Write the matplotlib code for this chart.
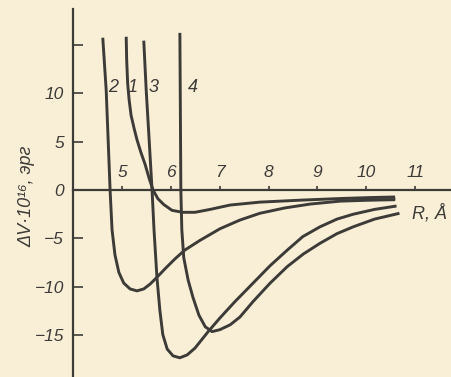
import matplotlib
matplotlib.use("Agg")
import matplotlib.pyplot as plt
from matplotlib import font_manager

# ---- data ----
r1 = [5.08, 5.09, 5.11, 5.14, 5.18, 5.24, 5.30, 5.38, 5.47, 5.55, 5.63, 5.73, 5.85, 6.02, 6.24,
      6.49, 6.80, 7.21, 7.82, 8.64, 9.46, 10.08, 10.59]
v1 = [15.8, 13.4, 11.0, 9.3, 7.7, 6.4, 5.2, 3.9, 2.6, 1.2, 0.0, -0.9, -1.5, -2.1, -2.3,
      -2.3, -2.0, -1.55, -1.25, -1.05, -0.88, -0.78, -0.72]

r2 = [4.60, 4.67, 4.71, 4.75, 4.79, 4.85, 4.93, 5.03, 5.16, 5.30, 5.44, 5.57, 5.71, 5.88, 6.08,
      6.28, 6.59, 7.00, 7.41, 7.82, 8.33, 8.85, 9.46, 10.08, 10.59]
v2 = [15.7, 10.3, 5.2, 0.0, -4.1, -6.7, -8.5, -9.6, -10.2, -10.4, -10.2, -9.7, -9.0, -8.1, -7.1,
      -6.2, -5.2, -4.0, -3.1, -2.4, -1.85, -1.45, -1.15, -1.05, -1.0]

r3 = [5.44, 5.49, 5.55, 5.61, 5.65, 5.71, 5.77, 5.83, 5.92, 6.04, 6.18, 6.33, 6.49, 6.76, 7.00,
      7.31, 7.68, 8.03, 8.38, 8.70, 9.05, 9.40, 9.73, 10.17, 10.62]
v3 = [15.4, 10.3, 5.2, 0.0, -4.1, -9.0, -12.4, -14.9, -16.4, -17.1, -17.3, -17.0, -16.3, -14.6, -13.2,
      -11.5, -9.6, -7.8, -6.2, -4.8, -3.8, -3.0, -2.5, -2.0, -1.65]

r4 = [6.18, 6.19, 6.20, 6.22, 6.26, 6.35, 6.45, 6.57, 6.70, 6.84, 7.00, 7.21, 7.41, 7.68, 8.03,
      8.38, 8.71, 9.05, 9.40, 9.73, 10.17, 10.68]
v4 = [16.2, 8.2, 0.0, -4.1, -7.0, -9.3, -11.1, -12.9, -14.1, -14.6, -14.4, -13.9, -13.1, -11.5, -9.6,
      -7.9, -6.6, -5.5, -4.5, -3.8, -3.0, -2.4]

curves = [(r1, v1), (r2, v2), (r3, v3), (r4, v4)]
curve_labels = ["1", "2", "3", "4"]
label_r = [5.22, 4.82, 5.64, 6.44]
label_v = [10.6, 10.6, 10.6, 10.6]

# stippled band between the tails of curves 1 and 2
band_r = [9.46, 10.08, 10.59]
band_lo = [-1.15, -1.05, -1.0]
band_hi = [-0.88, -0.78, -0.72]

xticks = [5, 6, 7, 8, 9, 10, 11]
yticks = [-15, -10, -5, 0, 5, 10, 15]
ytick_labels = ["\u221215", "\u221210", "\u22125", "0", "5", "10", ""]

ylabel = "\u0394V\u00b710\u00b9\u2076, \u044d\u0440\u0433"
xlabel = "R, \u00c5"

# ---- style ----
names = {f.name for f in font_manager.fontManager.ttflist}
if "Liberation Sans Narrow" in names:
    fam = ["Liberation Sans Narrow"]
elif "DejaVu Sans Condensed" in names:
    fam = ["DejaVu Sans Condensed"]
else:
    fam = ["Liberation Sans"]
fam = fam + ["DejaVu Sans"]
plt.rcParams["font.family"] = fam
plt.rcParams["font.style"] = "italic"

paper = "#f9efd7"
ink = "#3d3b38"

fig = plt.figure(figsize=(4.51, 3.77), dpi=100, facecolor=paper)
ax = fig.add_axes([0, 0, 1, 1], facecolor=paper)

for r, v in curves:
    ax.plot(r, v, color=ink, lw=2.1, solid_capstyle="butt", solid_joinstyle="round")

ax.fill_between(band_r, band_lo, band_hi, color=ink, alpha=0.6, lw=0)

for lab, lr, lv in zip(curve_labels, label_r, label_v):
    ax.text(lr, lv, lab, fontsize=13, color=ink, ha="center", va="center")

ax.set_xlim(2.494, 11.736)
ax.set_ylim(-19.28, 19.59)

for s in ["right", "bottom"]:
    ax.spines[s].set_visible(False)
ax.spines["left"].set_position(("data", 4))
ax.spines["left"].set_bounds(-20, 18.7)
ax.spines["top"].set_position(("data", 0))
ax.spines["top"].set_bounds(4, 12)
for s in ["left", "top"]:
    ax.spines[s].set_color(ink)
    ax.spines[s].set_linewidth(1.6)

ax.xaxis.set_ticks_position("top")
ax.set_xticks(xticks)
ax.set_xticklabels([str(t) for t in xticks])
ax.tick_params(axis="x", direction="out", length=3, width=1.2, color=ink,
               labelsize=12.5, labelcolor=ink, pad=4)
ax.set_yticks(yticks)
ax.set_yticklabels(ytick_labels)
ax.tick_params(axis="y", direction="in", length=7, width=1.2, color=ink,
               labelsize=12.5, labelcolor=ink, pad=7)

fig.text(27 / 451, 1 - 196 / 377, ylabel, rotation=90, ha="center", va="center",
         fontsize=13, color=ink)
fig.text(430 / 451, 1 - 213 / 377, xlabel, ha="center", va="center",
         fontsize=13, color=ink)

fig.savefig("out.png", dpi=100, facecolor=paper)
